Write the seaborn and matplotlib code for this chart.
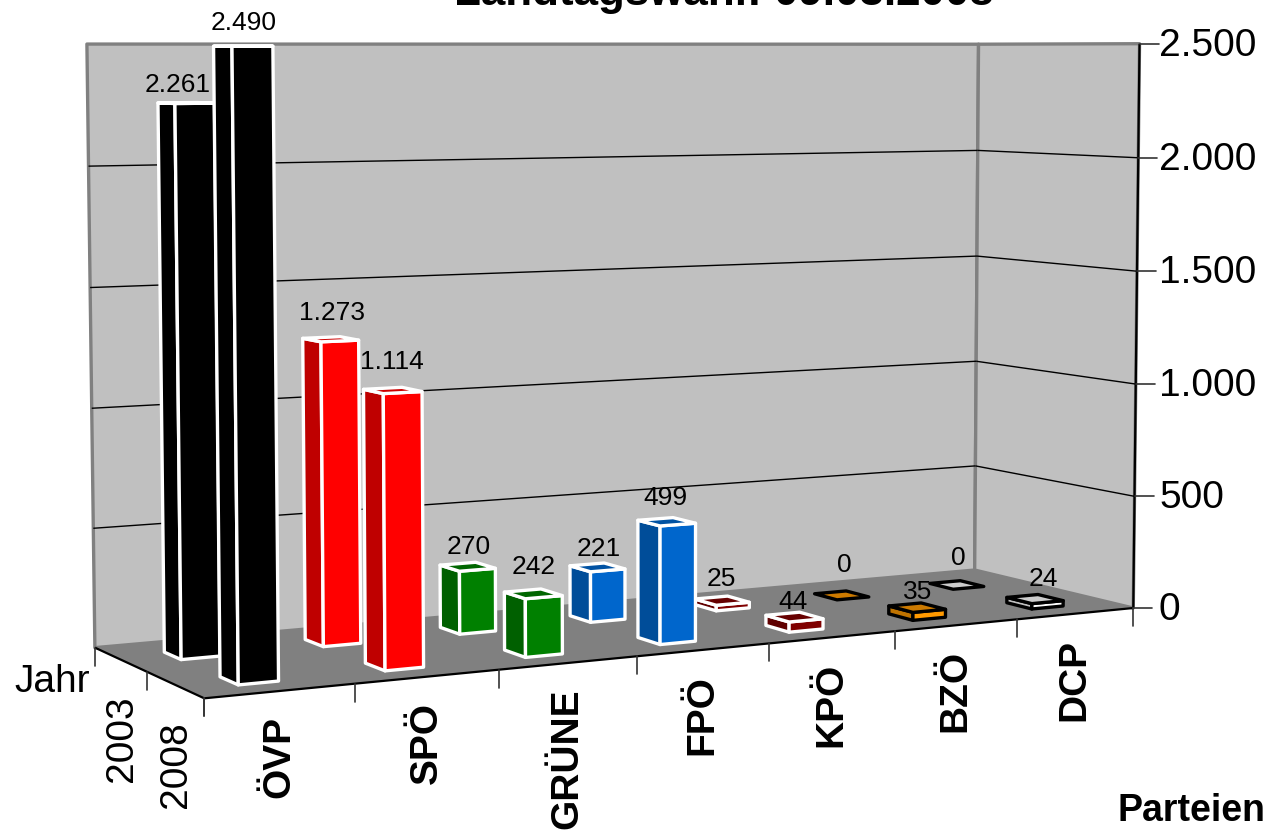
import numpy as np
import pandas as pd
import matplotlib
matplotlib.use("Agg")
import matplotlib.pyplot as plt
from matplotlib.patches import Polygon
from matplotlib.colors import to_rgb
import seaborn as sns

parties = ["ÖVP", "SPÖ", "GRÜNE", "FPÖ", "KPÖ", "BZÖ", "DCP"]
years = ["2008", "2003"]
votes_2003 = [2261, 1273, 270, 221, 25, 0, 0]
votes_2008 = [2490, 1114, 242, 499, 44, 35, 24]
labels_2003 = ["2.261", "1.273", "270", "221", "25", "0", "0"]
labels_2008 = ["2.490", "1.114", "242", "499", "44", "35", "24"]
value_ticks = [0, 500, 1000, 1500, 2000, 2500]
value_tick_labels = ["0", "500", "1.000", "1.500", "2.000", "2.500"]
party_colors = ["#000000", "#FF0000", "#008000", "#0066CC", "#800000", "#FF9900", "#FFFFFF"]
edge_colors = ["#FFFFFF", "#FFFFFF", "#FFFFFF", "#FFFFFF", "#FFFFFF", "#000000", "#000000"]

# small layout nudges of the value labels, in pixels
nudge_2003 = [(-8, 5.5), (1, -2.5), (1, 4.5), (1, 5.5), (-1, 2.5), (3, -6.5), (2, -2.5)]
nudge_2008 = [(1, 0.5), (-1, -4.5), (0, -2.5), (-1, 0.5), (-1, 8.5), (1, 8.5), (8, 3.5)]

sns.set_theme(style="white")
plt.rcParams["font.family"] = ["Liberation Sans", "DejaVu Sans"]
palette = sns.color_palette(party_colors)

# Projective camera fitted to the chart box corners (x: party, y: year row, z: votes)
ZMAX = 2500.0
world = [(0, 0, 0), (7, 0, 0), (0, 2, 0), (7, 2, 0), (0, 2, 1), (7, 2, 1), (7, 0, 1)]
image = [(204, 698), (1133, 608), (95, 648), (975, 570), (87, 44), (978, 44), (1140, 44)]
A, b = [], []
for (X, Y, Z), (u, v) in zip(world, image):
    A.append([X, Y, Z, 1, 0, 0, 0, 0, -u * X, -u * Y, -u * Z]); b.append(u)
    A.append([0, 0, 0, 0, X, Y, Z, 1, -v * X, -v * Y, -v * Z]); b.append(v)
P = np.append(np.linalg.lstsq(np.array(A, float), np.array(b, float), rcond=None)[0], 1).reshape(3, 4)


def proj(x, y, z):
    h = P @ np.array([x, y, z / ZMAX, 1.0])
    return h[0] / h[2], h[1] / h[2]


fig = plt.figure(figsize=(12.66, 8.30), dpi=100)
ax = fig.add_axes([0, 0, 1, 1])
ax.set_xlim(0, 1266)
ax.set_ylim(830, 0)
ax.axis("off")


def face(pts, fc, ec=None, lw=0, z=1):
    ax.add_patch(Polygon([proj(*p) for p in pts], closed=True, facecolor=fc,
                         edgecolor=ec if ec else "none", linewidth=lw, zorder=z, joinstyle="round"))


def seg(a, b, color="black", lw=1.2, z=2):
    pa, pb = proj(*a), proj(*b)
    ax.plot([pa[0], pb[0]], [pa[1], pb[1]], color=color, lw=lw, zorder=z, solid_capstyle="butt")


# walls and floor
face([(0, 2, 0), (7, 2, 0), (7, 2, ZMAX), (0, 2, ZMAX)], "#C0C0C0", "#808080", 2.4)
face([(7, 2, 0), (7, 0, 0), (7, 0, ZMAX), (7, 2, ZMAX)], "#C0C0C0", "#808080", 2.4)
face([(0, 0, 0), (7, 0, 0), (7, 2, 0), (0, 2, 0)], "#808080", None, 0, 1.5)
seg((7, 0, 0), (7, 0, ZMAX), "black", 1.6, 1.6)
seg((0, 0, 0), (7, 0, 0), "black", 1.6, 1.6)
seg((0, 0, 0), (0, 2, 0), "black", 1.6, 1.6)
for v in value_ticks[1:-1]:
    seg((0, 2, v), (7, 2, v), "black", 1.0, 1.2)
    seg((7, 2, v), (7, 0, v), "black", 1.0, 1.2)

# ticks
for i in range(len(parties) + 1):
    px, py = proj(i, 0, 0)
    ax.plot([px, px], [py, py + 18], color="#333333", lw=1.2)
for j in range(3):
    px, py = proj(0, j, 0)
    ax.plot([px, px], [py, py + 18], color="#333333", lw=1.2)
for v, lab in zip(value_ticks, value_tick_labels):
    px, py = proj(7, 0, v)
    ax.plot([px, px + 19], [py, py], color="#333333", lw=1.2)
    ax.text(1159, py + 2, lab, ha="left", va="center", fontsize=28, color="black")

# bars, far row first, right to left
BAR_X = (0.345, 0.615)
ROWS = {1: (1.31, 1.62), 0: (0.31, 0.62)}
order = 10
for row, vals, labs, nudges in ((1, votes_2003, labels_2003, nudge_2003),
                                (0, votes_2008, labels_2008, nudge_2008)):
    y0, y1 = ROWS[row]
    for i in range(len(parties) - 1, -1, -1):
        val = vals[i]
        x0, x1 = i + BAR_X[0], i + BAR_X[1]
        col = np.array(to_rgb(palette[i]))
        ec, lw = edge_colors[i], 2.4
        order += 1
        if val > 0:
            face([(x0, y0, 0), (x0, y1, 0), (x0, y1, val), (x0, y0, val)], tuple(col * 0.75), ec, lw, order)
            face([(x0, y0, 0), (x1, y0, 0), (x1, y0, val), (x0, y0, val)], tuple(col), ec, lw, order)
        face([(x0, y0, val), (x1, y0, val), (x1, y1, val), (x0, y1, val)], tuple(col * 0.8), ec, lw, order)
        px, py = proj((x0 + x1) / 2, (y0 + y1) / 2, val)
        ax.text(px + nudges[i][0], py - 24 + nudges[i][1], labs[i], ha="center", va="center",
                fontsize=19, color="black", zorder=100)

# category labels
for i, name in enumerate(parties):
    px, py = proj(i + 0.5, 0, 0)
    ax.text(px - 1, py + 25, name, rotation=90, ha="center", va="top", fontsize=28,
            fontweight="bold", color="black")
for j, yr in enumerate(years):
    px, py = proj(0, j + 0.5, 0)
    ax.text(px + 1, py + 36, yr, rotation=90, ha="center", va="top", fontsize=28, color="black")
ax.text(52, 682, "Jahr", ha="center", va="center", fontsize=28, color="black")
ax.text(1192, 811, "Parteien", ha="center", va="center", fontsize=27, fontweight="bold", color="black")
ax.text(724, -7, "Landtagswahl: 09.03.2008", ha="center", va="center", fontsize=31.7, fontweight="bold", color="black")

fig.savefig("out.png", dpi=100, facecolor="white")
